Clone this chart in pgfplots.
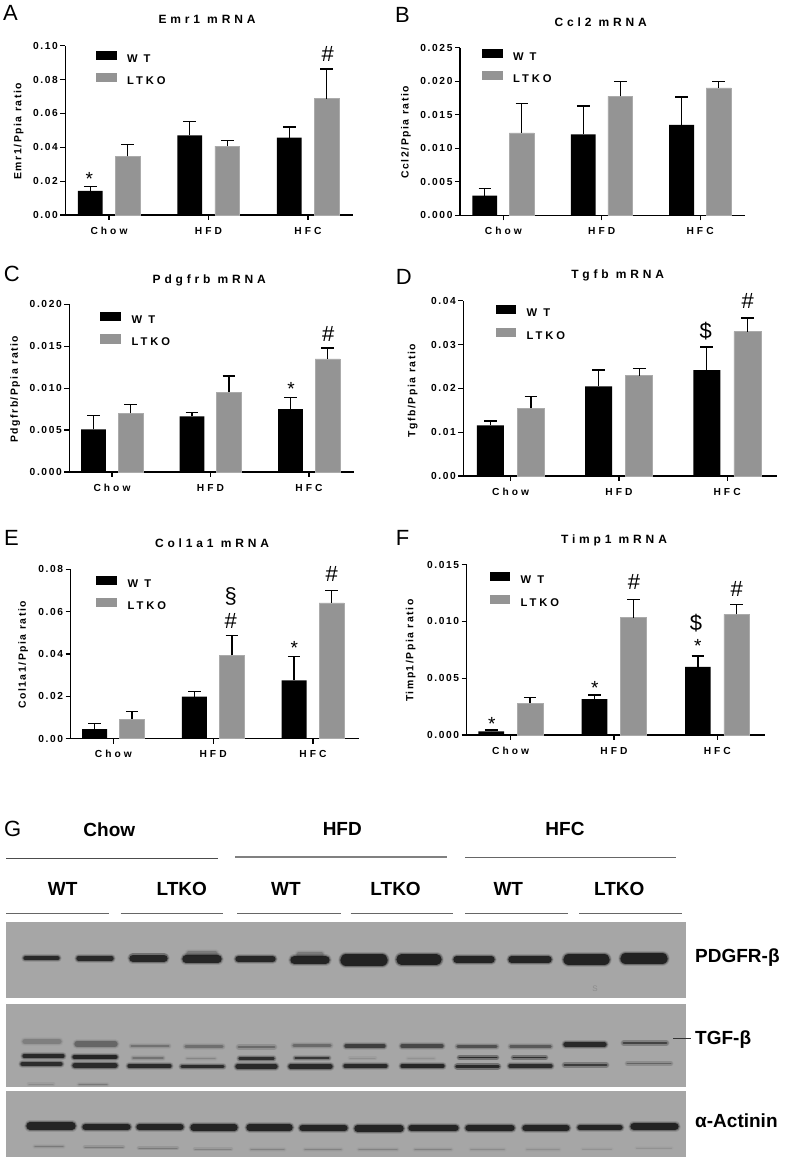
\documentclass[border=0pt]{standalone}
\usepackage{fontspec}
\usepackage{pgfplots}
\pgfplotsset{compat=1.18}
\setmainfont{Liberation Sans}
\newfontfamily\lsT[LetterSpace=16]{Liberation Sans}
\newfontfamily\lsC[LetterSpace=30]{Liberation Sans}
\newfontfamily\lsH[LetterSpace=32]{Liberation Sans}
\newfontfamily\lsY[LetterSpace=15]{Liberation Sans}
\newfontfamily\lsL[LetterSpace=26]{Liberation Sans}
\definecolor{barg}{HTML}{949494}
\definecolor{bare}{HTML}{ABABAB}
\definecolor{blot}{HTML}{A6A6A6}
\definecolor{band}{HTML}{1A1A1A}

\newcommand\setp[8]{\def\pL{#1}\def\pR{#2}\def\pB{#3}\def\pT{#4}\def\pTz{#5}\def\pGs{#6}\def\pBw{#8}%
\pgfmathsetmacro\pW{\pR-\pL}\pgfmathsetmacro\pH{\pB-\pT}%
\pgfmathsetmacro\pXmin{(\pL-\pTz)/\pGs}\pgfmathsetmacro\pXmax{(\pR-\pTz)/\pGs}\pgfmathsetmacro\pY{1162-\pB}}
\newcommand\settxt[6]{%
\pgfmathsetmacro\ptx{(#1-\pL)/\pW}\pgfmathsetmacro\pty{(\pB-#2)/\pH}%
\pgfmathsetmacro\pylx{(#3-\pL)/\pW}\pgfmathsetmacro\pyly{(\pB-#4)/\pH}%
\pgfmathsetmacro\plx{(#5-\pL)/\pW}\pgfmathsetmacro\ply{(\pB-#6)/\pH}}

\pgfplotsset{panel/.style={
  anchor=south west, at={(\pL pt,\pY pt)}, scale only axis, width=\pW pt, height=\pH pt,
  xmin=\pXmin, xmax=\pXmax, ymin=0,
  axis lines=left, axis line style={line width=1.2pt,-,black},
  tick align=outside, major tick length=5pt, tick style={line width=1.2pt,black},
  xtick={0,1,2}, xticklabels={Chow,HFD,HFC},
  xticklabel style={font=\lsC\bfseries\fontsize{10.2}{10}\selectfont, yshift=-3.5pt, text height=7pt},
  yticklabel style={font=\lsT\bfseries\fontsize{10.2}{10}\selectfont, xshift=1pt, /pgf/number format/assume math mode=true},
  scaled y ticks=false,
  every axis title/.style={at={(axis description cs:\ptx,\pty)},anchor=base,inner sep=0pt,font=\lsH\bfseries\fontsize{12}{12}\selectfont},
  every axis y label/.style={at={(axis description cs:\pylx,\pyly)},rotate=90,anchor=center,inner sep=0pt,font=\lsY\bfseries\fontsize{10.4}{11}\selectfont},
  legend style={at={(axis description cs:\plx,\ply)},anchor=west,draw=none,fill=none,inner sep=0pt,
    font=\lsL\bfseries\fontsize{11.2}{11}\selectfont,row sep=10.8pt,
    nodes={inner ysep=0pt,inner xsep=10.5pt,text height=7.8pt,text depth=0pt}},
  legend cell align=left,
  legend image code/.code={\fill[##1,draw=none] (0pt,-1.6pt) rectangle (20.7pt,7.6pt);},
  clip=false
},
wt/.style={ybar,bar width=\pBw pt,bar shift=0pt,fill=black,draw=none,
  error bars/.cd,y dir=plus,y explicit,error bar style={line width=1.3pt,black},
  error mark options={black,rotate=90,mark size=6.3pt,line width=1.3pt}},
ko/.style={ybar,bar width=\pBw pt,bar shift=0pt,fill=barg,draw=bare,line width=0.5pt,
  error bars/.cd,y dir=plus,y explicit,error bar style={line width=1.3pt,black},
  error mark options={black,rotate=90,mark size=6.3pt,line width=1.3pt}},
}
% one blot band, drawn through the overlay axis: x1 x2 y height opacity
\newcommand\bandp[5]{%
\pgfmathsetmacro\aa{#1+#4/2}\pgfmathsetmacro\bb{#2-#4/2}%
\pgfmathsetmacro\wo{#4+3.4}\pgfmathsetmacro\oo{#5*0.14}%
\pgfmathsetmacro\wm{#4+1.7}\pgfmathsetmacro\om{#5*0.3}%
\pgfmathsetmacro\wi{max(#4-0.6,0.6)}\pgfmathsetmacro\oi{#5*0.9}%
\edef\tmp{\noexpand\addplot[forget plot,no markers,color=band,line cap=round,line width=\wo pt,opacity=\oo] coordinates {(\aa,#3)(\bb,#3)};
\noexpand\addplot[forget plot,no markers,color=band,line cap=round,line width=\wm pt,opacity=\om] coordinates {(\aa,#3)(\bb,#3)};
\noexpand\addplot[forget plot,no markers,color=band,line cap=round,line width=\wi pt,opacity=\oi] coordinates {(\aa,#3)(\bb,#3)};}\tmp}

\begin{document}
\begin{tikzpicture}[x=1pt,y=1pt]
\useasboundingbox (0,0) rectangle (787,1162);

% A
\setp{65.3}{353}{215}{45.7}{109}{99.5}{18.7}{24.8}
\settxt{207}{24}{18.7}{131.3}{95.7}{67.8}
\begin{axis}[panel,ymax=0.10,ytick={0,0.02,0.04,0.06,0.08,0.10},
  yticklabel style={/pgf/number format/.cd,fixed,fixed zerofill,precision=2},
  title={Emr1 mRNA},ylabel={Emr1/Ppia ratio}]
\addplot[wt] coordinates {(-0.188,0.0142) +- (0,0.0027) (0.812,0.0470) +- (0,0.0081) (1.812,0.0457) +- (0,0.0063)};
\addplot[ko] coordinates {(0.188,0.0346) +- (0,0.0071) (1.188,0.0407) +- (0,0.0032) (2.188,0.0687) +- (0,0.0175)};
\legend{W T,LTKO}
\end{axis}

% B
\setp{460}{745.3}{215.3}{47.7}{503.3}{98.4}{18.5}{24.8}
\settxt{600.7}{26.3}{406}{132.3}{481.7}{65.6}
\begin{axis}[panel,ymax=0.025,ytick={0,0.005,0.010,0.015,0.020,0.025},
  yticklabel style={/pgf/number format/.cd,fixed,fixed zerofill,precision=3},
  title={Ccl2 mRNA},ylabel={Ccl2/Ppia ratio}]
\addplot[wt] coordinates {(-0.188,0.00293) +- (0,0.0011) (0.812,0.01208) +- (0,0.00422) (1.812,0.01347) +- (0,0.00417)};
\addplot[ko] coordinates {(0.188,0.01228) +- (0,0.00442) (1.188,0.01774) +- (0,0.00224) (2.188,0.01899) +- (0,0.00094)};
\legend{W T,LTKO}
\end{axis}

% C
\setp{69.3}{354.3}{472}{304.3}{112}{98.5}{18.5}{24.8}
\settxt{209.3}{283.3}{15.3}{389.3}{100.3}{329}
\begin{axis}[panel,ymax=0.020,ytick={0,0.005,0.010,0.015,0.020},
  yticklabel style={/pgf/number format/.cd,fixed,fixed zerofill,precision=3},
  title={Pdgfrb mRNA},ylabel={Pdgfrb/Ppia ratio}]
\addplot[wt] coordinates {(-0.188,0.00509) +- (0,0.00163) (0.812,0.00664) +- (0,0.00044) (1.812,0.00751) +- (0,0.0014)};
\addplot[ko] coordinates {(0.188,0.0070) +- (0,0.00103) (1.188,0.0095) +- (0,0.00195) (2.188,0.01348) +- (0,0.00131)};
\legend{W T,LTKO}
\end{axis}

% D
\setp{463.3}{776.7}{476}{300.7}{510.7}{108.2}{20.4}{27}
\settxt{617.7}{279}{412.7}{390.7}{495.3}{322.2}
\begin{axis}[panel,ymax=0.04,ytick={0,0.01,0.02,0.03,0.04},
  yticklabel style={/pgf/number format/.cd,fixed,fixed zerofill,precision=2},
  title={Tgfb mRNA},ylabel={Tgfb/Ppia ratio}]
\addplot[wt] coordinates {(-0.188,0.01156) +- (0,0.00099) (0.812,0.02046) +- (0,0.00372) (1.812,0.02418) +- (0,0.00525)};
\addplot[ko] coordinates {(0.188,0.01544) +- (0,0.00273) (1.188,0.02289) +- (0,0.0016) (2.188,0.03293) +- (0,0.00312)};
\legend{W T,LTKO}
\end{axis}

% E
\setp{70.7}{359}{738.7}{569.3}{113.3}{99.8}{18.7}{25}
\settxt{212}{547.7}{23.3}{655}{96.3}{592.5}
\begin{axis}[panel,ymax=0.08,ytick={0,0.02,0.04,0.06,0.08},
  yticklabel style={/pgf/number format/.cd,fixed,fixed zerofill,precision=2},
  title={Col1a1 mRNA},ylabel={Col1a1/Ppia ratio}]
\addplot[wt] coordinates {(-0.188,0.00457) +- (0,0.00267) (0.812,0.01984) +- (0,0.00252) (1.812,0.02756) +- (0,0.01118)};
\addplot[ko] coordinates {(0.188,0.00913) +- (0,0.00363) (1.188,0.03937) +- (0,0.00929) (2.188,0.0641) +- (0,0.00598)};
\legend{W T,LTKO}
\end{axis}

% F
\setp{466.7}{765}{735}{564.7}{510.7}{103.3}{19.3}{25.7}
\settxt{614}{544}{410.7}{650.7}{489.3}{589.2}
\begin{axis}[panel,ymax=0.015,ytick={0,0.005,0.010,0.015},
  yticklabel style={/pgf/number format/.cd,fixed,fixed zerofill,precision=3},
  title={Timp1 mRNA},ylabel={Timp1/Ppia ratio}]
\addplot[wt] coordinates {(-0.188,0.00032) +- (0,0.00012) (0.812,0.00317) +- (0,0.00035) (1.812,0.00599) +- (0,0.00096)};
\addplot[ko] coordinates {(0.188,0.00279) +- (0,0.00053) (1.188,0.01033) +- (0,0.00161) (2.188,0.01063) +- (0,0.00085)};
\legend{W T,LTKO}
\end{axis}

% overlay in pixel coordinates: letters, annotations, blot
\begin{axis}[anchor=south west,at={(0pt,0pt)},scale only axis,width=787pt,height=1162pt,
  xmin=0,xmax=787,ymin=0,ymax=1162,y dir=reverse,hide axis,clip=false]
\def\sym#1#2#3{\node[inner sep=0pt,font=\fontsize{22}{22}\selectfont] at (axis cs:#1,#2) {#3};}
\def\ast#1#2{\node[inner sep=0pt,anchor=north,font=\fontsize{19}{19}\selectfont] at (axis cs:#1,#2-4) {\raisebox{-3pt}{*}};}
\def\letter#1#2#3{\node[inner sep=0pt,anchor=base west,font=\fontsize{22}{22}\selectfont] at (axis cs:#1,#2) {#3};}
\letter{3}{20}{A}\letter{395}{22.7}{B}\letter{3.7}{281.7}{C}\letter{395.7}{284}{D}
\letter{4}{545}{E}\letter{395.7}{545}{F}\letter{4}{836}{G}
\ast{89.3}{176.3}\sym{327.7}{54.3}{\#}
\ast{291}{386.3}\sym{328.3}{333.7}{\#}
\sym{705.7}{330.7}{\$}\sym{747.7}{301.3}{\#}
\sym{230.7}{596}{\S}\sym{230.7}{621}{\#}\ast{294.3}{645.3}\sym{331.7}{574}{\#}
\ast{491.7}{721}\ast{594.7}{685}\sym{634}{582.3}{\#}\sym{696}{623.3}{\$}\ast{697.7}{643}\sym{736.7}{589}{\#}

% blot backgrounds
\addplot[forget plot,fill=blot,draw=none] coordinates {(6,921.7)(686,921.7)(686,998.3)(6,998.3)} --cycle;
\addplot[forget plot,fill=blot,draw=none] coordinates {(6,1004)(686,1004)(686,1086.7)(6,1086.7)} --cycle;
\addplot[forget plot,fill=blot,draw=none] coordinates {(6,1091)(686,1091)(686,1156.7)(6,1156.7)} --cycle;
\node[inner sep=0pt,font=\fontsize{8}{8}\selectfont,text=black!45] at (axis cs:595,989) {S};

% PDGFR-beta
\bandp{23}{60}{958.3}{4.5}{.92}\bandp{76}{114}{958.3}{5}{.92}\bandp{129}{168}{958.3}{8}{.95}
\bandp{186}{218}{953.5}{5}{.25}\bandp{182}{222}{959}{8}{.95}\bandp{235}{276}{959}{7}{.95}
\bandp{296}{324}{954.5}{5}{.25}\bandp{290}{330}{960}{9}{.97}\bandp{340}{388}{960}{12}{1}
\bandp{396}{442}{959.5}{11}{1}\bandp{453}{495}{959.5}{7}{.97}\bandp{508}{552}{959.5}{7}{.97}
\bandp{563}{610}{959.5}{12}{1}\bandp{620}{668}{958.5}{12}{1}

% TGF-beta, upper
\bandp{22}{62}{1041.5}{6}{.22}\bandp{74}{118}{1044}{6}{.38}\bandp{130}{170}{1046}{3}{.3}\bandp{184}{224}{1046.5}{3.5}{.32}
\bandp{237}{276}{1047}{3.5}{.35}\bandp{292}{332}{1045.5}{3.5}{.35}\bandp{344}{386}{1046}{4}{.7}\bandp{400}{444}{1046}{4}{.62}
\bandp{456}{498}{1046.5}{3.5}{.55}\bandp{509}{552}{1046.5}{3}{.48}\bandp{563}{607}{1044.5}{5}{.9}\bandp{622}{668}{1043}{3.5}{.65}
% middle
\bandp{22}{65}{1056}{4.5}{.92}\bandp{72}{118}{1057}{5}{.97}\bandp{132}{164}{1058}{2}{.3}\bandp{186}{216}{1058.5}{1.5}{.18}
\bandp{238}{275}{1058.5}{3}{.85}\bandp{294}{330}{1058}{2.5}{.78}\bandp{349}{376}{1058}{1.5}{.12}\bandp{407}{435}{1058.5}{1.5}{.1}
\bandp{458}{498}{1057.5}{2.5}{.9}\bandp{512}{547}{1057.5}{2.5}{.85}
% lower
\bandp{20}{63}{1064}{5}{.88}\bandp{72}{118}{1065.5}{6}{.9}\bandp{127}{172}{1066}{4.5}{.9}\bandp{180}{225}{1066.5}{4}{.88}
\bandp{235}{278}{1066.5}{5}{.92}\bandp{288}{333}{1066.5}{5}{.92}\bandp{343}{388}{1066}{4.5}{.9}\bandp{400}{445}{1066}{4.5}{.95}
\bandp{455}{500}{1066.5}{4.5}{.92}\bandp{508}{553}{1066}{4}{.88}\bandp{563}{608}{1065}{3.5}{.72}\bandp{626}{672}{1063.5}{2.5}{.4}
\bandp{28}{54}{1084}{1.5}{.15}\bandp{78}{108}{1084.5}{2}{.25}

% alpha-actinin
\bandp{26}{76}{1126}{8}{.97}\bandp{82}{131}{1127}{7}{.97}\bandp{136}{184}{1127}{7}{.97}\bandp{190}{238}{1127.5}{7}{.97}
\bandp{246}{293}{1127.5}{7}{.97}\bandp{299}{348}{1128}{7}{.97}\bandp{354}{404}{1128.5}{7}{.97}\bandp{408}{459}{1128}{7}{.97}
\bandp{465}{515}{1128}{7}{.97}\bandp{522}{570}{1128}{7}{.97}\bandp{577}{623}{1127.5}{6}{.97}\bandp{630}{679}{1126.5}{8}{.98}
\bandp{34}{64}{1146.5}{1.5}{.25}\bandp{84}{124}{1147}{1.5}{.25}\bandp{138}{178}{1148}{1.5}{.25}\bandp{194}{232}{1149}{1.5}{.2}
\bandp{250}{285}{1149.5}{1.5}{.2}\bandp{304}{342}{1149.5}{1.5}{.2}\bandp{358}{398}{1149.5}{1.5}{.2}\bandp{414}{452}{1149.5}{1.5}{.2}
\bandp{470}{505}{1149.5}{1.2}{.15}\bandp{526}{560}{1149.5}{1.2}{.12}\bandp{582}{612}{1149}{1}{.1}\bandp{636}{672}{1148}{1}{.1}

% group lines
\addplot[forget plot,no markers,color=black!70,line width=0.9pt] coordinates {(6,858)(217.7,858)};
\addplot[forget plot,no markers,color=black!50,line width=1.4pt] coordinates {(235.3,857)(446.7,857)};
\addplot[forget plot,no markers,color=black!60,line width=1pt] coordinates {(465,857)(676,857)};
\addplot[forget plot,no markers,color=black!60,line width=1pt] coordinates {(6,913.7)(109,913.7)};
\addplot[forget plot,no markers,color=black!60,line width=1pt] coordinates {(120.7,913.7)(223.3,913.7)};
\addplot[forget plot,no markers,color=black!60,line width=1pt] coordinates {(237.3,913.7)(340.7,913.7)};
\addplot[forget plot,no markers,color=black!60,line width=1pt] coordinates {(350.7,913.7)(453.3,913.7)};
\addplot[forget plot,no markers,color=black!60,line width=1pt] coordinates {(465,913.7)(568,913.7)};
\addplot[forget plot,no markers,color=black!60,line width=1pt] coordinates {(579.3,913.7)(682,913.7)};
\addplot[forget plot,no markers,color=black!80,line width=0.8pt] coordinates {(673.3,1038)(691,1038)};

\def\hd#1#2#3{\node[inner sep=0pt,font=\bfseries\fontsize{19}{19}\selectfont] at (axis cs:#1,#2) {#3};}
\hd{109.3}{829.3}{Chow}\hd{342.3}{829.3}{HFD}\hd{565}{829.3}{HFC}
\hd{62.7}{888.7}{WT}\hd{181.7}{888.7}{LTKO}\hd{286}{888.7}{WT}\hd{395.6}{888.7}{LTKO}\hd{508.3}{888.7}{WT}\hd{619.3}{888.7}{LTKO}
\def\rl#1#2{\node[inner sep=0pt,anchor=west,font=\bfseries\fontsize{19}{19}\selectfont] at (axis cs:695,#1) {#2};}
\rl{957.7}{PDGFR-β}\rl{1040}{TGF-β}\rl{1121}{α-Actinin}
\end{axis}
\end{tikzpicture}
\end{document}
